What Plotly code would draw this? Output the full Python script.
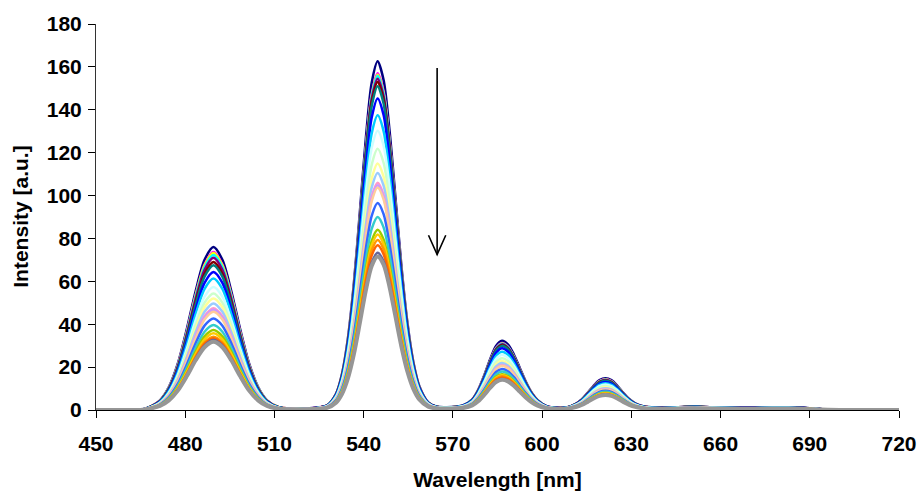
import numpy as np
import plotly.graph_objects as go

# ---------------- data ----------------
# wavelength grid of the strongest (first) spectrum, nm
WAVELENGTH_NM = [450, 460, 465, 467.5, 471.5, 474.5, 477.5, 480.5, 483.5, 486.5,
                 489.5, 492.5, 495.5, 498.5, 501.5, 504.5, 507.5, 511.5, 516, 521,
                 527.7, 530.7, 532.7, 534.7, 536.7, 538.7, 540.7, 542.7, 544.7, 546.7,
                 548.7, 550.7, 552.7, 554.7, 556.7, 558.7, 561.7, 564.7, 568, 571,
                 573.5, 576.5, 578.5, 580.5, 582.5, 584.5, 586.5, 588.5, 590.5, 592.5,
                 594.5, 596.5, 598.5, 601.5, 605, 608.3, 611.3, 613.3, 615.3, 617.3,
                 619.3, 621.3, 623.3, 625.3, 627.3, 629.3, 631.3, 634.3, 638, 643,
                 648, 652, 657, 663, 670, 677, 683, 688, 692, 696, 700, 720]
# intensity of the strongest (first) spectrum at those wavelengths
TOP_SPECTRUM = [0, 0, 0.1, 1.1, 4.5, 10.7, 21.6, 37.5, 55.4, 70.0,
                76.0, 70.0, 55.4, 37.5, 21.6, 10.7, 4.5, 1.3, 0.7, 0.7,
                2.2, 7.6, 16.8, 33.4, 58.9, 91.9, 126.2, 152.6, 162.6, 153.9,
                130.3, 98.8, 67.0, 40.8, 22.4, 11.2, 3.6, 1.5, 1.3, 1.5,
                2.2, 4.9, 9.4, 16.0, 23.6, 29.9, 32.3, 30.6, 25.9, 19.6,
                13.3, 8.1, 4.6, 1.8, 1.0, 1.2, 2.9, 4.9, 8.0, 11.3,
                13.9, 14.8, 13.9, 11.3, 8.0, 5.1, 3.1, 1.6, 1.1, 1.1,
                1.5, 1.6, 1.3, 1.1, 1.0, 1.2, 1.2, 1.0, 0.6, 0.2, 0, 0]

# emission band regions (limits in nm) and peak heights of every spectrum
BAND_LIMITS = [517, 566, 604]
PEAK_490 = [76.0, 73.7, 73.2, 72.3, 71.0, 69.0, 67.5, 64.4, 61.3, 57.4, 54.3, 52.0,
            49.7, 47.5, 46.8, 45.8, 42.7, 39.6, 37.3, 35.8, 34.2, 33.5, 32.6, 31.8]
PEAK_545 = [162.6, 157.0, 156.3, 155.8, 154.5, 153.0, 151.0, 145.3, 137.4, 130.2, 121.8, 115.0,
            110.5, 106.0, 104.8, 103.8, 96.5, 90.0, 84.0, 81.8, 79.3, 76.8, 73.3, 71.6]
PEAK_585 = [32.3, 31.2, 31.0, 30.9, 30.6, 30.3, 29.9, 28.8, 27.2, 25.8, 24.1, 22.8,
            21.9, 21.0, 20.8, 20.6, 19.1, 17.9, 16.7, 16.2, 15.7, 15.2, 14.5, 14.1]
PEAK_621 = [14.8, 14.3, 14.2, 14.1, 14.0, 13.8, 13.6, 13.1, 12.5, 11.9, 11.2, 10.6,
            10.2, 9.8, 9.7, 9.6, 9.0, 8.5, 8.0, 7.8, 7.6, 7.4, 7.2, 7.0]

SERIES_COLORS = ["#000080", "#FF00FF", "#FFFF00", "#00FFFF", "#800080", "#800000",
                 "#008080", "#0000FF", "#00CCFF", "#CCFFFF", "#CCFFCC", "#FFFF99",
                 "#99CCFF", "#FF99CC", "#CC99FF", "#FFCC99", "#3366FF", "#33CCCC",
                 "#99CC00", "#FFCC00", "#FF9900", "#FF6600", "#666699", "#969696"]

X_TICKS = [450, 480, 510, 540, 570, 600, 630, 660, 690, 720]
Y_TICKS = [0, 20, 40, 60, 80, 100, 120, 140, 160, 180]

ARROW_X = 564.7
ARROW_Y = [159.5, 72.5]

# ---------------- figure ----------------
wl = np.array(WAVELENGTH_NM, dtype=float)
top = np.array(TOP_SPECTRUM, dtype=float)
band_idx = np.searchsorted(BAND_LIMITS, wl)
peaks = [PEAK_490, PEAK_545, PEAK_585, PEAK_621]

FONT = "Liberation Sans, Arial, sans-serif"
FS = 21

fig = go.Figure()
for i, col in enumerate(SERIES_COLORS):
    ratio = np.array([peaks[b][i] / peaks[b][0] for b in band_idx])
    y = top * ratio
    fig.add_trace(go.Scatter(
        x=wl, y=y, mode="lines",
        line=dict(color=col, width=4.0 if i == len(SERIES_COLORS) - 1 else 2.5,
                  shape="spline", smoothing=0.8),
        hoverinfo="skip", showlegend=False))

# arrow (shaft + open V head)
head_dx, head_dy = 2.9, 9.0
fig.add_shape(type="line", xref="x", yref="y",
              x0=ARROW_X, x1=ARROW_X, y0=ARROW_Y[0], y1=ARROW_Y[1],
              line=dict(color="black", width=1.6))
fig.add_shape(type="path", xref="x", yref="y",
              path=(f"M {ARROW_X - head_dx},{ARROW_Y[1] + head_dy} "
                    f"L {ARROW_X},{ARROW_Y[1]} L {ARROW_X + head_dx},{ARROW_Y[1] + head_dy}"),
              line=dict(color="black", width=1.6))

# y-axis title placed as a rotated annotation in the left margin
fig.add_annotation(text="<b>Intensity [a.u.]</b>", xref="paper", yref="paper",
                   x=-0.095, y=0.5, xanchor="center", yanchor="middle",
                   textangle=-90, showarrow=False,
                   font=dict(family=FONT, size=FS, color="black"))

fig.update_layout(
    width=920, height=494,
    margin=dict(l=96, r=21, t=24, b=84, autoexpand=False),
    paper_bgcolor="white", plot_bgcolor="white",
    font=dict(family=FONT, size=FS, color="black"),
    showlegend=False,
)
fig.update_xaxes(
    range=[450, 720], tickvals=X_TICKS, ticktext=[f"<b>{v}</b>" for v in X_TICKS],
    automargin=False,
    showgrid=False, zeroline=False, showline=True, linecolor="black", linewidth=1,
    ticks="outside", ticklen=7, tickcolor="black", tickwidth=1,
    ticklabelstandoff=8,
    tickfont=dict(family=FONT, size=FS, color="black"),
    title=dict(text="<b>Wavelength [nm]</b>", font=dict(family=FONT, size=FS), standoff=18),
)
fig.update_yaxes(
    range=[0, 180], tickvals=Y_TICKS, ticktext=[f"<b>{v}</b>" for v in Y_TICKS],
    automargin=False,
    showgrid=False, zeroline=False, showline=True, linecolor="#333333", linewidth=1,
    ticks="outside", ticklen=7, tickcolor="black", tickwidth=1,
    ticklabelstandoff=2,
    tickfont=dict(family=FONT, size=FS, color="black"),
)

fig.write_html("out.html")
